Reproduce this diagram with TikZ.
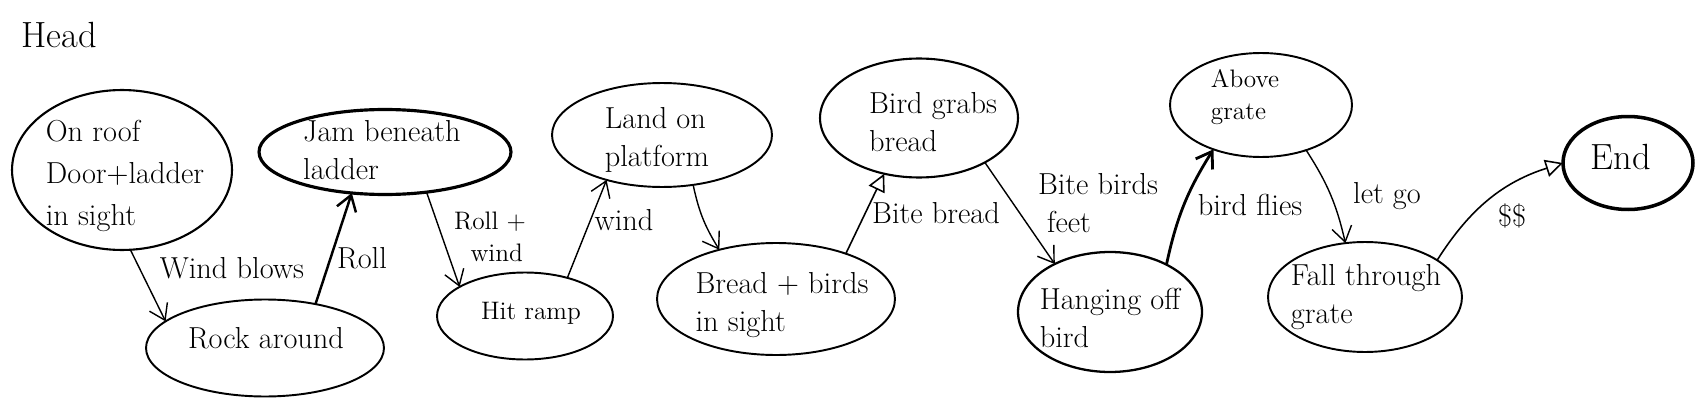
\documentclass[tikz,border=0pt]{standalone}
\usetikzlibrary{shapes.geometric,arrows.meta}

\tikzset{
  scene/.style={draw, ellipse, inner sep=0pt, outer sep=0pt},
  scenetext/.style={font=\LARGE, align=left, inner sep=0pt},
  edgelabel/.style={font=\LARGE, align=left, inner sep=0pt},
  flow/.style={-{Straight Barb[length=3mm,width=4mm]}, line width=0.8pt},
  opentip/.style={-{Triangle[open,length=3.5mm,width=3.5mm]}, line width=0.9pt},
}

\begin{document}
\begin{tikzpicture}[x=0.02cm, y=-0.02cm]
\useasboundingbox (0,0) rectangle (1708,409);

% title
\node[font=\huge] (head) at (59,35) {Head};

% scenes
\foreach \n/\x/\y/\w/\h/\lw in {roof/122/170/4.4/3.2/1.2, jam/385/152/5.04/1.7/1.8,
    rock/265/348/4.76/1.94/1.1, ramp/525/316/3.52/1.74/1.1, land/662/135/4.4/2.08/1.1,
    bread/776/299/4.76/2.24/1.1, grabs/919/118/3.96/2.38/1.2, hang/1110/312/3.68/2.4/1.3,
    above/1261/105/3.64/2.08/1.1, fall/1365/297/3.88/2.2/1.1, end/1628/163/2.6/1.86/2}
  \node[scene, line width=\lw pt, minimum width=\w cm, minimum height=\h cm] (\n) at (\x,\y) {};

\node[scenetext] (roof-t) at (125,176) {On roof\\[2pt]Door+ladder\\[2pt]in sight};
\node[scenetext] (jam-t) at (382,150) {Jam beneath\\ladder};
\node[scenetext] (rock-t) at (266,338) {Rock around};
\node[scenetext, font=\Large] (ramp-t) at (531,313) {Hit ramp};
\node[scenetext] (land-t) at (657,140) {Land on\\platform};
\node[scenetext] (bread-t) at (782,305) {Bread + birds\\in sight};
\node[scenetext] (grabs-t) at (933,122) {Bird grabs\\bread};
\node[scenetext] (hang-t) at (1110,318) {Hanging off\\bird};
\node[scenetext, font=\Large] (above-t) at (1245,97) {Above\\grate};
\node[scenetext] (fall-t) at (1366,297) {Fall through\\grate};
\node[scenetext, font=\huge] (end-t) at (1621,157) {End};

% transitions
\draw[flow] (roof.-84) -- (rock.165);
\draw[flow, line width=1.4pt] (rock.41) -- (jam.-129);
\draw[flow] (jam.-44) -- (ramp.156);
\draw[flow] (ramp.42) -- (land.-141);
\draw[flow] (land.-58) to[bend right=10] (bread.139);
\draw[opentip] (bread.33) -- (grabs.-122);
\draw[flow] (grabs.-34) -- (hang.139);
\draw[flow, line width=1.6pt] (hang.40) to[bend left=10] (above.-137);
\draw[flow] (above.-45) to[bend left=10] (fall.110);
\draw[opentip] (fall.27) to[bend left=20] (end.west);

% transition labels
\node[edgelabel] (l-wind) at (232,268) {Wind blows};
\node[edgelabel] (l-roll) at (362,258) {Roll};
\node[edgelabel, font=\Large] (l-rollwind) at (490,237) {Roll +\\\ \ wind};
\node[edgelabel] (l-wind2) at (624,220) {wind};
\node[edgelabel] (l-bite) at (936,213) {Bite bread};
\node[edgelabel] (l-feet) at (1098,203) {Bite birds\\\ feet};
\node[edgelabel] (l-flies) at (1250,205) {bird flies};
\node[edgelabel] (l-letgo) at (1387,196) {let go};
\node[edgelabel] (l-money) at (1512,216) {\$\$};

\end{tikzpicture}
\end{document}
